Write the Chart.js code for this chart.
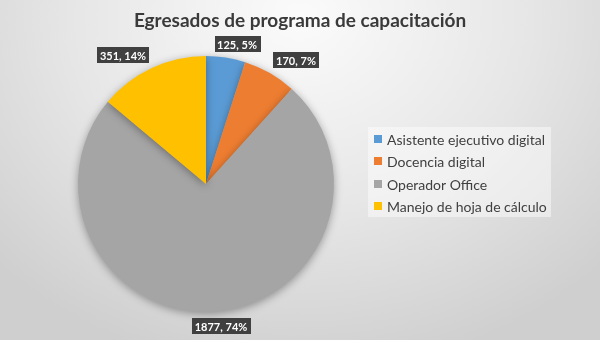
<!DOCTYPE html>
<html>
<head>
<meta charset="utf-8">
<script src="https://cdn.jsdelivr.net/npm/chart.js@4"></script>
<style>
  html, body { margin: 0; padding: 0; }
  #wrap {
    width: 600px; height: 340px; position: relative;
    background: radial-gradient(ellipse 70% 105% at 50% 5%, #fbfbfb 0%, #e6e6e6 55%, #cfcfcf 100%);
  }
</style>
</head>
<body>
<div id="wrap"><canvas id="pieChart" width="600" height="340"></canvas></div>
<script>
// programas y egresados
const categories = ['Asistente ejecutivo digital', 'Docencia digital', 'Operador Office', 'Manejo de hoja de cálculo'];
const graduates = [125, 170, 1877, 351];
const sliceColors = ['#5B9BD5', '#ED7D31', '#A5A5A5', '#FFC000'];
const chartTitle = 'Egresados de programa de capacitación';

const FONT = 'Lato, "Open Sans", sans-serif';

// ======================
// título centrado en todo el lienzo
// ======================
const canvasTitle = {
  id: 'canvasTitle',
  afterDraw(chart) {
    const ctx = chart.ctx;
    ctx.save();
    ctx.font = 'bold 19px ' + FONT;
    ctx.fillStyle = '#3a3a3a';
    ctx.textAlign = 'center';
    ctx.textBaseline = 'alphabetic';
    ctx.fillText(chartTitle, chart.width / 2, 27);
    ctx.restore();
  }
};

// ======================
// sombra suave bajo el pastel
// ======================
const pieShadow = {
  id: 'pieShadow',
  beforeDatasetsDraw(chart) {
    const ctx = chart.ctx;
    ctx.save();
    ctx.shadowColor = 'rgba(0,0,0,0.35)';
    ctx.shadowBlur = 9;
    ctx.shadowOffsetY = 2;
  },
  afterDatasetsDraw(chart) {
    chart.ctx.restore();
  }
};

// ======================
// etiquetas "valor, %" fuera de cada sector
// ======================
const outsideLabels = {
  id: 'outsideLabels',
  afterDatasetsDraw(chart) {
    const ctx = chart.ctx;
    const meta = chart.getDatasetMeta(0);
    const values = chart.data.datasets[0].data;
    const total = values.reduce((s, v) => s + v, 0);
    ctx.save();
    ctx.font = 'bold 11px ' + FONT;
    ctx.textAlign = 'center';
    ctx.textBaseline = 'middle';
    meta.data.forEach((arc, i) => {
      const p = arc.getProps(['x', 'y', 'startAngle', 'endAngle', 'outerRadius'], true);
      const mid = (p.startAngle + p.endAngle) / 2;
      const dx = Math.cos(mid), dy = Math.sin(mid);
      const text = values[i] + ', ' + Math.round(values[i] / total * 100) + '%';
      const w = ctx.measureText(text).width + 6;
      const h = 16;
      const ax = p.x + dx * (p.outerRadius + 6);
      const ay = p.y + dy * (p.outerRadius + 6);
      const cx = ax + Math.sign(dx) * Math.min(1, Math.abs(dx) * 3) * w / 2;
      const cy = ay + Math.sign(dy) * Math.min(1, Math.abs(dy) * 3) * h / 2;
      ctx.fillStyle = '#404040';
      ctx.fillRect(Math.round(cx - w / 2), Math.round(cy - h / 2), Math.round(w), h);
      ctx.fillStyle = '#ffffff';
      ctx.fillText(text, Math.round(cx), Math.round(cy) + 1);
    });
    ctx.restore();
  }
};

// ======================
// leyenda a la derecha con fondo claro
// ======================
const sideLegend = {
  id: 'sideLegend',
  afterDraw(chart) {
    const ctx = chart.ctx;
    const left = 368, top = 127, width = 183, height = 90;
    ctx.save();
    ctx.fillStyle = 'rgba(255,255,255,0.45)';
    ctx.fillRect(left, top, width, height);
    ctx.font = '14px ' + FONT;
    ctx.textBaseline = 'middle';
    chart.data.labels.forEach((label, i) => {
      const y = 139 + i * 22.3;
      ctx.fillStyle = chart.data.datasets[0].backgroundColor[i];
      ctx.fillRect(374, Math.round(y) - 4, 8, 8);
      ctx.fillStyle = '#404040';
      ctx.fillText(label, 387, Math.round(y) + 1);
    });
    ctx.restore();
  }
};

new Chart(document.getElementById('pieChart'), {
  type: 'pie',
  data: {
    labels: categories,
    datasets: [{
      data: graduates,
      backgroundColor: sliceColors,
      borderWidth: 0
    }]
  },
  options: {
    responsive: false,
    animation: false,
    layout: { padding: { left: 0, right: 188, top: 56, bottom: 28 } },
    plugins: {
      legend: { display: false },
      tooltip: { enabled: false },
      title: { display: false }
    }
  },
  plugins: [pieShadow, outsideLabels, sideLegend, canvasTitle]
});
</script>
</body>
</html>
